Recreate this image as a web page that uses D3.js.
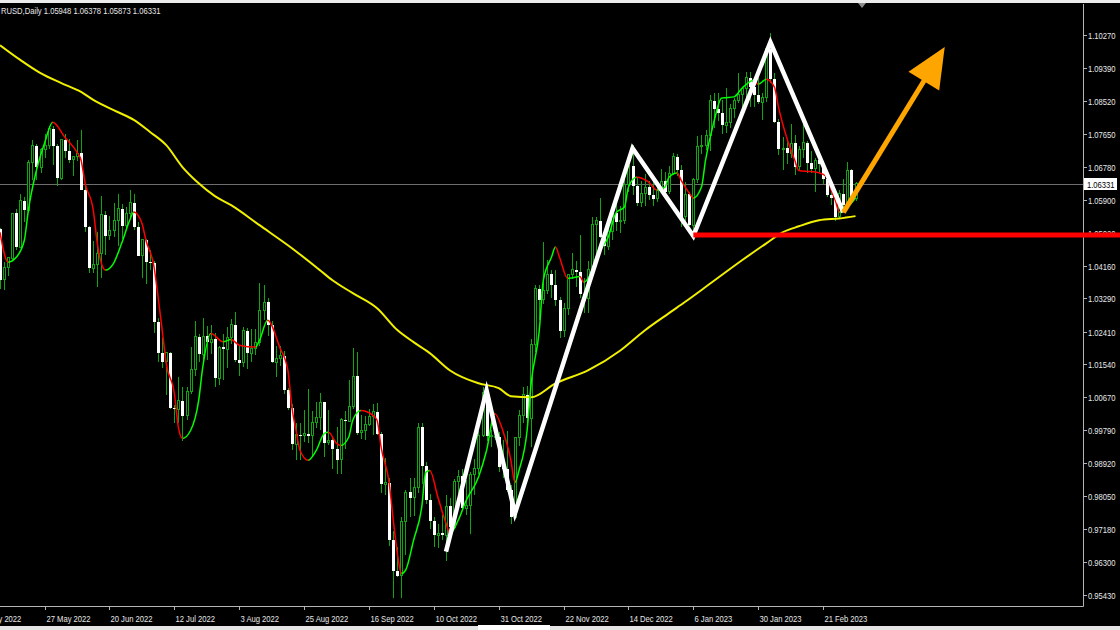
<!DOCTYPE html>
<html><head><meta charset="utf-8">
<script src="https://cdn.jsdelivr.net/npm/d3@7"></script>
<style>html,body{margin:0;padding:0;background:#000;overflow:hidden}svg{display:block}</style>
</head><body><svg id="c" width="1120" height="630"></svg>
<script>
// ---------- DATA (EURUSD, Daily) ----------
const dates = [
"2022-05-05","2022-05-06","2022-05-09","2022-05-10","2022-05-11","2022-05-12","2022-05-13","2022-05-16","2022-05-17","2022-05-18","2022-05-19","2022-05-20","2022-05-23","2022-05-24","2022-05-25","2022-05-26","2022-05-27","2022-05-30","2022-05-31",
"2022-06-01","2022-06-02","2022-06-03","2022-06-06","2022-06-07","2022-06-08","2022-06-09","2022-06-10","2022-06-13","2022-06-14","2022-06-15","2022-06-16","2022-06-17","2022-06-20","2022-06-21","2022-06-22","2022-06-23","2022-06-24","2022-06-27","2022-06-28","2022-06-29","2022-06-30",
"2022-07-01","2022-07-04","2022-07-05","2022-07-06","2022-07-07","2022-07-08","2022-07-11","2022-07-12","2022-07-13","2022-07-14","2022-07-15","2022-07-18","2022-07-19","2022-07-20","2022-07-21","2022-07-22","2022-07-25","2022-07-26","2022-07-27","2022-07-28","2022-07-29",
"2022-08-01","2022-08-02","2022-08-03","2022-08-04","2022-08-05","2022-08-08","2022-08-09","2022-08-10","2022-08-11","2022-08-12","2022-08-15","2022-08-16","2022-08-17","2022-08-18","2022-08-19","2022-08-22","2022-08-23","2022-08-24","2022-08-25","2022-08-26","2022-08-29","2022-08-30","2022-08-31",
"2022-09-01","2022-09-02","2022-09-05","2022-09-06","2022-09-07","2022-09-08","2022-09-09","2022-09-12","2022-09-13","2022-09-14","2022-09-15","2022-09-16","2022-09-19","2022-09-20","2022-09-21","2022-09-22","2022-09-23","2022-09-26","2022-09-27","2022-09-28","2022-09-29","2022-09-30",
"2022-10-03","2022-10-04","2022-10-05","2022-10-06","2022-10-07","2022-10-10","2022-10-11","2022-10-12","2022-10-13","2022-10-14","2022-10-17","2022-10-18","2022-10-19","2022-10-20","2022-10-21","2022-10-24","2022-10-25","2022-10-26","2022-10-27","2022-10-28","2022-10-30","2022-10-31",
"2022-11-01","2022-11-02","2022-11-03","2022-11-04","2022-11-07","2022-11-08","2022-11-09","2022-11-10","2022-11-11","2022-11-14","2022-11-15","2022-11-16","2022-11-17","2022-11-18","2022-11-21","2022-11-22","2022-11-23","2022-11-24","2022-11-25","2022-11-28","2022-11-29","2022-11-30",
"2022-12-01","2022-12-02","2022-12-05","2022-12-06","2022-12-07","2022-12-08","2022-12-09","2022-12-12","2022-12-13","2022-12-14","2022-12-15","2022-12-16","2022-12-19","2022-12-20","2022-12-21","2022-12-22","2022-12-23","2022-12-27","2022-12-28","2022-12-29","2022-12-30",
"2023-01-02","2023-01-03","2023-01-04","2023-01-05","2023-01-06","2023-01-09","2023-01-10","2023-01-11","2023-01-12","2023-01-13","2023-01-16","2023-01-17","2023-01-18","2023-01-19","2023-01-20","2023-01-23","2023-01-24","2023-01-25","2023-01-26","2023-01-27","2023-01-30","2023-01-31",
"2023-02-01","2023-02-02","2023-02-03","2023-02-06","2023-02-07","2023-02-08","2023-02-09","2023-02-10","2023-02-13","2023-02-14","2023-02-15","2023-02-16","2023-02-17","2023-02-20","2023-02-21","2023-02-22","2023-02-23","2023-02-24","2023-02-27","2023-02-28",
"2023-03-01","2023-03-02","2023-03-03"];
const opens = [
1.0622,1.0541,1.0550,1.0560,1.0529,1.0513,1.0380,1.0410,1.0436,1.0554,1.0464,1.0588,1.0562,1.0690,1.0733,1.0676,1.0723,1.0733,1.0779,
1.0733,1.0648,1.0749,1.0719,1.0696,1.0706,1.0714,1.0617,1.0519,1.0409,1.0418,1.0449,1.0551,1.0495,1.0510,1.0535,1.0567,1.0522,1.0554,1.0583,1.0519,1.0442,
1.0484,1.0425,1.0424,1.0266,1.0183,1.0161,1.0185,1.0039,1.0035,1.0058,1.0018,1.0082,1.0141,1.0227,1.0181,1.0229,1.0213,1.0221,1.0118,1.0200,1.0194,
1.0225,1.0259,1.0166,1.0159,1.0243,1.0183,1.0197,1.0212,1.0298,1.0319,1.0259,1.0160,1.0170,1.0177,1.0087,1.0039,0.9943,0.9968,0.9967,0.9970,0.9965,1.0000,1.0014,
1.0054,0.9946,0.9953,0.9929,0.9902,1.0007,1.0003,1.0043,1.0123,0.9973,0.9980,0.9995,1.0015,1.0028,0.9970,0.9837,0.9840,0.9689,0.9606,0.9594,0.9739,0.9815,
0.9801,0.9828,0.9987,0.9886,0.9795,0.9740,0.9702,0.9706,0.9702,0.9778,0.9722,0.9844,0.9858,0.9773,0.9780,0.9862,0.9877,0.9965,1.0079,0.9964,0.9960,0.9962,
0.9882,0.9877,0.9821,0.9749,0.9960,1.0020,1.0074,1.0011,1.0208,1.0354,1.0326,1.0351,1.0393,1.0364,1.0325,1.0243,1.0303,1.0393,1.0405,1.0398,1.0340,1.0330,
1.0406,1.0524,1.0535,1.0492,1.0467,1.0507,1.0555,1.0532,1.0536,1.0630,1.0680,1.0627,1.0583,1.0606,1.0623,1.0602,1.0593,1.0615,1.0639,1.0611,1.0660,
1.0705,1.0668,1.0545,1.0605,1.0523,1.0644,1.0731,1.0735,1.0761,1.0853,1.0830,1.0820,1.0788,1.0795,1.0832,1.0854,1.0870,1.0886,1.0914,1.0890,1.0868,1.0849,
1.0862,1.0990,1.0910,1.0796,1.0725,1.0727,1.0714,1.0740,1.0678,1.0723,1.0741,1.0687,1.0673,1.0695,1.0685,1.0645,1.0604,1.0595,1.0546,1.0606,
1.0576,1.0669,1.05948];
const highs = [
1.0642,1.0593,1.0596,1.0576,1.0578,1.0516,1.0425,1.0440,1.0555,1.0565,1.0605,1.0599,1.0697,1.0748,1.0737,1.0728,1.0765,1.0787,1.0785,
1.0737,1.0750,1.0764,1.0751,1.0707,1.0748,1.0774,1.0630,1.0520,1.0482,1.0506,1.0601,1.0560,1.0548,1.0582,1.0606,1.0579,1.0571,1.0615,1.0606,1.0531,1.0487,
1.0486,1.0456,1.0429,1.0277,1.0225,1.0186,1.0187,1.0046,1.0122,1.0094,1.0095,1.0200,1.0268,1.0235,1.0278,1.0255,1.0259,1.0238,1.0204,1.0234,1.0254,
1.0274,1.0294,1.0202,1.0254,1.0250,1.0248,1.0249,1.0369,1.0364,1.0331,1.0268,1.0202,1.0202,1.0190,1.0091,1.0049,0.9999,0.9999,1.0033,1.0090,1.0030,1.0055,1.0079,
1.0055,1.0034,0.9960,0.9988,1.0011,1.0030,1.0113,1.0198,1.0187,1.0020,1.0017,1.0036,1.0050,1.0051,0.9976,0.9907,0.9852,0.9712,0.9671,0.9749,0.9820,0.9853,
0.9854,0.9999,0.9999,0.9895,0.9810,0.9749,0.9732,0.9755,0.9807,0.9800,0.9850,0.9875,0.9876,0.9848,0.9870,0.9903,0.9977,1.0094,1.0088,0.9981,0.9966,0.9976,
0.9954,0.9977,0.9835,0.9961,1.0033,1.0094,1.0096,1.0222,1.0365,1.0364,1.0479,1.0431,1.0405,1.0404,1.0333,1.0316,1.0394,1.0448,1.0428,1.0497,1.0384,1.0429,
1.0545,1.0544,1.0594,1.0505,1.0532,1.0563,1.0588,1.0575,1.0673,1.0695,1.0736,1.0651,1.0640,1.0658,1.0639,1.0640,1.0635,1.0672,1.0664,1.0679,1.0713,
1.0712,1.0683,1.0637,1.0610,1.0647,1.0760,1.0762,1.0775,1.0867,1.0874,1.0873,1.0855,1.0887,1.0843,1.0859,1.0927,1.0890,1.0929,1.0929,1.0897,1.0914,1.0874,
1.0992,1.1033,1.0927,1.0805,1.0756,1.0750,1.0790,1.0761,1.0734,1.0805,1.0745,1.0720,1.0700,1.0704,1.0693,1.0664,1.0616,1.0605,1.0615,1.0645,
1.0691,1.0672,1.06378];
const lows = [
1.0493,1.0483,1.0502,1.0525,1.0490,1.0354,1.0350,1.0389,1.0431,1.0458,1.0462,1.0532,1.0555,1.0642,1.0643,1.0662,1.0700,1.0726,1.0682,
1.0627,1.0642,1.0702,1.0687,1.0653,1.0692,1.0615,1.0505,1.0397,1.0397,1.0359,1.0382,1.0444,1.0483,1.0492,1.0468,1.0486,1.0513,1.0540,1.0509,1.0441,1.0382,
1.0366,1.0405,1.0236,1.0161,1.0145,1.0072,1.0036,0.9999,0.9998,0.9952,1.0006,1.0075,1.0124,1.0160,1.0153,1.0166,1.0181,1.0095,1.0099,1.0113,1.0145,
1.0208,1.0160,1.0123,1.0147,1.0141,1.0160,1.0180,1.0202,1.0271,1.0229,1.0159,1.0122,1.0150,1.0075,1.0034,0.9926,0.9900,0.9901,0.9948,0.9946,0.9910,0.9985,0.9979,
0.9910,0.9941,0.9877,0.9864,0.9864,0.9930,1.0001,1.0035,0.9966,0.9956,0.9955,0.9990,0.9966,0.9966,0.9813,0.9807,0.9673,0.9536,0.9590,0.9535,0.9648,0.9749,
0.9752,0.9814,0.9836,0.9785,0.9717,0.9670,0.9668,0.9688,0.9632,0.9717,0.9720,0.9798,0.9767,0.9754,0.9704,0.9809,0.9863,0.9963,0.9952,0.9934,0.9955,0.9870,
0.9853,0.9816,0.9731,0.9745,0.9937,0.9998,0.9991,0.9936,1.0187,1.0271,1.0315,1.0340,1.0330,1.0310,1.0223,1.0226,1.0284,1.0380,1.0360,1.0330,1.0290,1.0289,
1.0402,1.0445,1.0490,1.0443,1.0456,1.0483,1.0508,1.0502,1.0526,1.0610,1.0602,1.0575,1.0570,1.0575,1.0590,1.0573,1.0585,1.0610,1.0609,1.0606,1.0655,
1.0653,1.0519,1.0532,1.0522,1.0483,1.0634,1.0712,1.0722,1.0719,1.0781,1.0800,1.0765,1.0766,1.0780,1.0807,1.0847,1.0834,1.0844,1.0835,1.0836,1.0843,1.0801,
1.0850,1.0899,1.0793,1.0708,1.0669,1.0685,1.0700,1.0656,1.0668,1.0701,1.0662,1.0660,1.0612,1.0663,1.0633,1.0597,1.0577,1.0535,1.0540,1.0560,
1.0570,1.0588,1.05873];
const closes = [
1.0541,1.0550,1.0560,1.0529,1.0513,1.0379,1.0412,1.0437,1.0554,1.0464,1.0588,1.0562,1.0690,1.0733,1.0676,1.0723,1.0733,1.0779,1.0733,
1.0648,1.0749,1.0719,1.0696,1.0706,1.0714,1.0617,1.0519,1.0409,1.0418,1.0449,1.0551,1.0495,1.0510,1.0535,1.0567,1.0522,1.0554,1.0583,1.0519,1.0442,1.0484,
1.0425,1.0424,1.0266,1.0183,1.0161,1.0185,1.0039,1.0035,1.0058,1.0018,1.0082,1.0141,1.0227,1.0181,1.0229,1.0213,1.0221,1.0118,1.0200,1.0194,1.0225,
1.0259,1.0166,1.0159,1.0243,1.0183,1.0197,1.0212,1.0298,1.0319,1.0259,1.0160,1.0170,1.0177,1.0087,1.0039,0.9943,0.9968,0.9967,0.9970,0.9965,1.0000,1.0014,1.0054,
0.9946,0.9953,0.9929,0.9902,1.0007,1.0003,1.0043,1.0123,0.9973,0.9980,0.9995,1.0015,1.0028,0.9970,0.9837,0.9840,0.9689,0.9606,0.9594,0.9739,0.9815,0.9801,
0.9828,0.9987,0.9886,0.9795,0.9740,0.9702,0.9706,0.9702,0.9778,0.9722,0.9844,0.9858,0.9773,0.9780,0.9862,0.9877,0.9965,1.0079,0.9964,0.9965,0.9962,0.9882,
0.9877,0.9821,0.9749,0.9960,1.0020,1.0074,1.0011,1.0208,1.0354,1.0326,1.0351,1.0393,1.0364,1.0325,1.0243,1.0303,1.0393,1.0405,1.0398,1.0340,1.0330,1.0406,
1.0524,1.0535,1.0492,1.0467,1.0507,1.0555,1.0532,1.0536,1.0630,1.0680,1.0627,1.0583,1.0606,1.0623,1.0602,1.0593,1.0615,1.0639,1.0611,1.0660,1.0705,
1.0668,1.0545,1.0605,1.0523,1.0644,1.0731,1.0735,1.0761,1.0853,1.0830,1.0820,1.0788,1.0795,1.0832,1.0854,1.0870,1.0886,1.0914,1.0890,1.0868,1.0849,1.0862,
1.0990,1.0910,1.0796,1.0725,1.0727,1.0714,1.0740,1.0678,1.0723,1.0741,1.0687,1.0673,1.0695,1.0685,1.0645,1.0604,1.0595,1.0546,1.0606,1.0576,
1.0669,1.0596,1.06331];

// price-axis tick labels
const priceTicks = [1.10270,1.09390,1.08520,1.07650,1.06780,1.05900,1.05020,1.04160,1.03290,1.02410,1.01540,1.00670,0.99790,0.98920,0.98050,0.97180,0.96300,0.95430];
// time-axis tick labels
const timeTicks = ["2022-05-05","2022-05-27","2022-06-20","2022-07-12","2022-08-03","2022-08-25","2022-09-16","2022-10-10","2022-10-31","2022-11-22","2022-12-14","2023-01-06","2023-01-30","2023-02-21"];

// yellow long moving average
const maDates = ["2022-05-12","2022-05-19","2022-05-26","2022-06-02","2022-06-09","2022-06-14","2022-06-22","2022-06-28","2022-07-04","2022-07-08","2022-07-14","2022-07-20","2022-07-26","2022-08-01","2022-08-10","2022-08-22","2022-08-31","2022-09-05","2022-09-12","2022-09-20","2022-09-27","2022-10-03","2022-10-07","2022-10-14","2022-10-25","2022-10-31","2022-11-03","2022-11-10","2022-11-18","2022-11-30","2022-12-12","2022-12-20","2022-12-29","2023-01-04","2023-01-12","2023-01-24","2023-02-01","2023-02-07","2023-02-13","2023-02-20","2023-02-27","2023-03-03"];
const maValues = [1.1000,1.0961,1.0926,1.0900,1.0876,1.0855,1.0823,1.0802,1.0770,1.0735,1.0677,1.0634,1.0600,1.0576,1.0523,1.0462,1.0403,1.0377,1.0343,1.0303,1.0245,1.0213,1.0184,1.0138,1.0104,1.0091,1.0070,1.0067,1.0104,1.0138,1.0191,1.0244,1.0290,1.0320,1.0367,1.0430,1.0475,1.0504,1.0520,1.0536,1.0541,1.0547];

// short smoothed line, green while rising, red while falling
const smDates = ["2022-05-12","2022-05-16","2022-05-18","2022-05-20","2022-05-23","2022-05-25","2022-05-27","2022-05-31","2022-06-03","2022-06-08","2022-06-09","2022-06-10","2022-06-14","2022-06-15","2022-06-16","2022-06-17","2022-06-21","2022-06-23","2022-06-27","2022-06-28","2022-06-30","2022-07-01","2022-07-05","2022-07-06","2022-07-07","2022-07-08","2022-07-12","2022-07-13","2022-07-14","2022-07-18","2022-07-20","2022-07-21","2022-07-25","2022-07-28","2022-08-01","2022-08-03","2022-08-09","2022-08-10","2022-08-12","2022-08-17","2022-08-19","2022-08-22","2022-08-23","2022-08-24","2022-08-26","2022-08-30","2022-09-01","2022-09-02","2022-09-06","2022-09-07","2022-09-09","2022-09-12","2022-09-14","2022-09-19","2022-09-20","2022-09-21","2022-09-23","2022-09-26","2022-09-27","2022-09-28","2022-09-29","2022-10-03","2022-10-05","2022-10-06","2022-10-07","2022-10-11","2022-10-13","2022-10-14","2022-10-18","2022-10-20","2022-10-25","2022-10-27","2022-10-30","2022-11-01","2022-11-03","2022-11-04","2022-11-07","2022-11-09","2022-11-10","2022-11-14","2022-11-15","2022-11-17","2022-11-18","2022-11-21","2022-11-23","2022-11-24","2022-11-28","2022-11-29","2022-12-01","2022-12-02","2022-12-07","2022-12-09","2022-12-13","2022-12-14","2022-12-16","2022-12-21","2022-12-23","2022-12-28","2022-12-29","2023-01-02","2023-01-03","2023-01-05","2023-01-06","2023-01-10","2023-01-11","2023-01-13","2023-01-17","2023-01-18","2023-01-20","2023-01-24","2023-01-27","2023-01-30","2023-02-01","2023-02-03","2023-02-06","2023-02-08","2023-02-10","2023-02-13","2023-02-16","2023-02-20","2023-02-22","2023-02-23","2023-02-24","2023-02-27","2023-03-01","2023-03-03"];
const smValues = [1.0504,1.0425,1.0438,1.0483,1.0563,1.0669,1.0741,1.0796,1.0756,1.0716,1.0695,1.0634,1.0563,1.0475,1.0422,1.0404,1.0422,1.0475,1.0536,1.0558,1.0528,1.0483,1.0412,1.0332,1.0245,1.0157,1.0077,0.9987,0.9958,0.9979,1.0059,1.0146,1.0236,1.0214,1.0220,1.0205,1.0200,1.0218,1.0271,1.0199,1.0138,1.0040,0.9979,0.9926,0.9900,0.9926,0.9971,0.9974,0.9945,0.9939,0.9961,1.0006,1.0032,1.0019,1.0006,0.9934,0.9839,0.9741,0.9653,0.9600,0.9608,0.9688,0.9775,0.9868,0.9873,0.9802,0.9733,0.9706,0.9741,0.9794,0.9855,0.9926,1.0024,0.9979,0.9900,0.9841,0.9873,0.9979,1.0104,1.0244,1.0377,1.0438,1.0465,1.0438,1.0382,1.0383,1.0387,1.0372,1.0404,1.0438,1.0491,1.0557,1.0571,1.0624,1.0650,1.0637,1.0616,1.0624,1.0650,1.0661,1.0642,1.0608,1.0595,1.0624,1.0695,1.0794,1.0860,1.0861,1.0863,1.0886,1.0908,1.0896,1.0910,1.0889,1.0836,1.0756,1.0695,1.0668,1.0665,1.0662,1.0650,1.0616,1.0589,1.0558,1.0571,1.0595];

// hand-drawn annotations
const zigzagDates = ["2022-10-13","2022-10-27","2022-11-04","2022-12-15","2023-01-06","2023-02-02","2023-02-28"];
const zigzagPrices = [0.9658,1.0085,0.9759,1.0727,1.0494,1.1008,1.0557];
const arrowBarsAhead = 22;      // arrow tip, bars after the last candle
const arrowTipPrice = 1.0995;
const supportDate = "2023-01-06";
const supportPrice = 1.0497;
const header = "RUSD,Daily  1.05948 1.06378 1.05873 1.06331";

// ---------- DRAWING ----------
const W = 1120, H = 630;
const plotL = 0, plotR = 1083, plotT = 4, plotB = 606;
const barsInView = 267.1;
const svg = d3.select("#c");
svg.append("rect").attr("width", W).attr("height", H).attr("fill", "#000");

const firstVisible = dates.indexOf("2022-05-12");
const x = d3.scaleLinear().domain([firstVisible, firstVisible + barsInView]).range([plotL, plotR]);
const y = d3.scaleLinear().domain([0.95430, 1.10270]).range([595, 35]);
const idx = d => dates.indexOf(d);

const defs = svg.append("defs");
defs.append("clipPath").attr("id", "plotClip").append("rect")
  .attr("x", plotL).attr("y", plotT).attr("width", plotR - plotL).attr("height", plotB - plotT);

const FONT = "Liberation Sans, Arial, sans-serif";
function label(g, txt, tx, ty, color, anchor) {
  return g.append("text").attr("transform", `translate(${tx},${ty}) scale(0.78,1)`)
    .attr("font-family", FONT).attr("font-size", 9.8).attr("fill", color)
    .attr("text-anchor", anchor || "start").text(txt);
}

const plot = svg.append("g").attr("clip-path", "url(#plotClip)");

// bid line
const lastClose = closes[closes.length - 1];
plot.append("line").attr("x1", plotL).attr("x2", plotR)
  .attr("y1", Math.round(y(lastClose)) + 0.5).attr("y2", Math.round(y(lastClose)) + 0.5)
  .attr("stroke", "#6e6e6e").attr("stroke-width", 1);

// candles
const candles = dates.map((d, i) => ({ i, o: opens[i], h: highs[i], l: lows[i], c: closes[i] }));
const WICK = "#12a512";
const cg = plot.append("g").attr("shape-rendering", "crispEdges");
cg.selectAll("line.w").data(candles).join("line").attr("class", "w")
  .attr("x1", d => Math.round(x(d.i)) + 0.5).attr("x2", d => Math.round(x(d.i)) + 0.5)
  .attr("y1", d => y(d.h)).attr("y2", d => y(d.l)).attr("stroke", WICK).attr("stroke-width", 1);
cg.selectAll("rect.bull").data(candles.filter(d => d.c >= d.o)).join("rect").attr("class", "bull")
  .attr("x", d => Math.round(x(d.i)) - 0.5).attr("width", 2)
  .attr("y", d => y(d.c)).attr("height", d => Math.max(1, y(d.o) - y(d.c)))
  .attr("fill", "#000").attr("stroke", WICK).attr("stroke-width", 1);
cg.selectAll("rect.bear").data(candles.filter(d => d.c < d.o)).join("rect").attr("class", "bear")
  .attr("x", d => Math.round(x(d.i)) - 1).attr("width", 3)
  .attr("y", d => y(d.o)).attr("height", d => Math.max(1, y(d.c) - y(d.o)))
  .attr("fill", "#ffffff");

// yellow moving average
const ma = maDates.map((d, k) => ({ i: idx(d), v: maValues[k] }));
plot.append("path").datum(ma)
  .attr("d", d3.line().x(d => x(d.i)).y(d => y(d.v)).curve(d3.curveMonotoneX))
  .attr("fill", "none").attr("stroke", "#f0f000").attr("stroke-width", 2);

// two-colour smoothed line
const sm = smDates.map((d, k) => ({ i: idx(d), v: smValues[k] }));
const upClip = defs.append("clipPath").attr("id", "upClip");
const dnClip = defs.append("clipPath").attr("id", "dnClip");
for (let k = 0; k < sm.length - 1; k++) {
  const target = sm[k + 1].v >= sm[k].v ? upClip : dnClip;
  target.append("rect").attr("x", x(sm[k].i) - 0.3).attr("width", x(sm[k + 1].i) - x(sm[k].i) + 0.6)
    .attr("y", 0).attr("height", H);
}
const smPath = d3.line().x(d => x(d.i)).y(d => y(d.v)).curve(d3.curveMonotoneX)(sm);
plot.append("g").attr("clip-path", "url(#upClip)").append("path").attr("d", smPath)
  .attr("fill", "none").attr("stroke", "#00ff00").attr("stroke-width", 1.5);
plot.append("g").attr("clip-path", "url(#dnClip)").append("path").attr("d", smPath)
  .attr("fill", "none").attr("stroke", "#ff0000").attr("stroke-width", 1.5);

// white zigzag
const zz = zigzagDates.map((d, k) => ({ i: idx(d), v: zigzagPrices[k] }));
plot.append("path").datum(zz)
  .attr("d", d3.line().x(d => x(d.i)).y(d => y(d.v)))
  .attr("fill", "none").attr("stroke", "#ffffff").attr("stroke-width", 4.5)
  .attr("stroke-linejoin", "miter").attr("stroke-miterlimit", 10);

// orange arrow
const a0 = [x(zz[zz.length - 1].i), y(zz[zz.length - 1].v)];
const a1 = [x(dates.length - 1 + arrowBarsAhead), y(arrowTipPrice)];
const len = Math.hypot(a1[0] - a0[0], a1[1] - a0[1]);
const ux = (a1[0] - a0[0]) / len, uy = (a1[1] - a0[1]) / len;
const headL = 40, headW = 18;
const bc = [a1[0] - ux * headL, a1[1] - uy * headL];
plot.append("line").attr("x1", a0[0]).attr("y1", a0[1]).attr("x2", bc[0] + ux * 4).attr("y2", bc[1] + uy * 4)
  .attr("stroke", "#ffa500").attr("stroke-width", 5);
plot.append("polygon").attr("points", [
  a1, [bc[0] - uy * headW, bc[1] + ux * headW], [bc[0] + uy * headW, bc[1] - ux * headW]
].map(p => p.join(",")).join(" ")).attr("fill", "#ffa500");

// ---------- AXES ----------
const axisCol = "#b4b4b4", txtCol = "#e8e8e8";
const ax = svg.append("g");
ax.append("line").attr("x1", plotR + 0.5).attr("x2", plotR + 0.5).attr("y1", plotT).attr("y2", plotB + 0.5)
  .attr("stroke", axisCol);
ax.append("line").attr("x1", plotL).attr("x2", plotR + 0.5).attr("y1", plotB + 0.5).attr("y2", plotB + 0.5)
  .attr("stroke", axisCol);

priceTicks.forEach(p => {
  const yy = Math.round(y(p)) + 0.5;
  ax.append("line").attr("x1", plotR).attr("x2", plotR + 4).attr("y1", yy).attr("y2", yy).attr("stroke", axisCol);
  label(ax, p.toFixed(5), plotR + 5, yy + 3.5, txtCol);
});

const fmt = d3.timeFormat("%-d %b %Y"), parse = d3.timeParse("%Y-%m-%d");
timeTicks.forEach(d => {
  const xx = Math.round(x(idx(d))) + 0.5;
  ax.append("line").attr("x1", xx).attr("x2", xx).attr("y1", plotB).attr("y2", plotB + 4).attr("stroke", axisCol);
  label(ax, fmt(parse(d)), xx + 1, plotB + 16, txtCol);
});

// support line (drawn over the axis, as in the picture)
svg.append("line").attr("x1", x(idx(supportDate))).attr("x2", W)
  .attr("y1", y(supportPrice)).attr("y2", y(supportPrice))
  .attr("stroke", "#ff0000").attr("stroke-width", 5);

// current price box
const by = y(lastClose);
svg.append("rect").attr("x", plotR + 1).attr("y", Math.round(by) - 6).attr("width", 33).attr("height", 12).attr("fill", "#ffffff");
label(svg, lastClose.toFixed(5), plotR + 4, Math.round(by) + 4, "#000");

// header
label(svg, header, 1, 14, txtCol);

// window chrome
svg.append("rect").attr("x", 0).attr("y", 0).attr("width", W).attr("height", 3).attr("fill", "#ececec");
svg.append("path").attr("d", "M858,3 L866,3 L862,8 Z").attr("fill", "#8c8c8c");
svg.append("rect").attr("x", 0).attr("y", 626).attr("width", W).attr("height", 4).attr("fill", "#e4e4e4");
svg.append("rect").attr("x", 478).attr("y", 625).attr("width", 72).attr("height", 5).attr("fill", "#ffffff");
</script></body></html>
